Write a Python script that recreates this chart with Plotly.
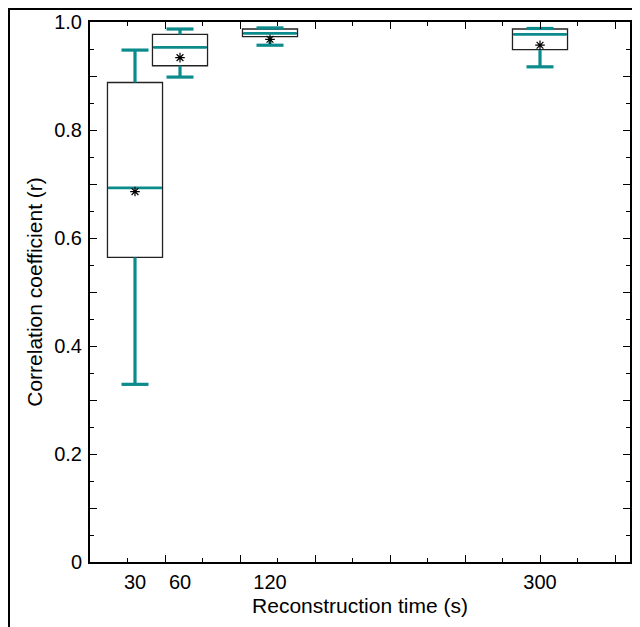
import plotly.graph_objects as go

# ---- data ----
times = [30, 60, 120, 300]
tick_labels = ["30", "60", "120", "300"]
lower_whisker = [0.329, 0.898, 0.957, 0.917]
q1 = [0.564, 0.919, 0.973, 0.949]
median = [0.693, 0.953, 0.979, 0.977]
q3 = [0.888, 0.977, 0.987, 0.987]
upper_whisker = [0.948, 0.987, 0.989, 0.988]
mean = [0.686, 0.934, 0.968, 0.957]
y_tick_vals = [0, 0.1, 0.2, 0.3, 0.4, 0.5, 0.6, 0.7, 0.8, 0.9, 1.0]
y_tick_text = ["0", "", "0.2", "", "0.4", "", "0.6", "", "0.8", "", "1.0"]

TEAL = "#0b8b8c"
BOX_W = 36.7          # box width in x-units (seconds)
CAP_W = 18.0          # whisker cap width in x-units
FONT = "Arial, 'Liberation Sans', sans-serif"

fig = go.Figure()

# black box outlines (box trace with quartiles only)
fig.add_trace(go.Box(
    x=times, q1=q1, median=median, q3=q3,
    lowerfence=q1, upperfence=q3,
    width=BOX_W, whiskerwidth=0,
    line=dict(color="#222222", width=1.3),
    fillcolor="white", boxpoints=False, showlegend=False, hoverinfo="skip",
))

# teal whiskers, caps and medians
wx, wy = [], []
for t, lo, a, b, hi in zip(times, lower_whisker, q1, q3, upper_whisker):
    wx += [t, t, None, t, t, None]
    wy += [hi, b, None, a, lo, None]
    wx += [t - CAP_W / 2, t + CAP_W / 2, None, t - CAP_W / 2, t + CAP_W / 2, None]
    wy += [hi, hi, None, lo, lo, None]
fig.add_trace(go.Scatter(x=wx, y=wy, mode="lines",
                         line=dict(color=TEAL, width=3.2),
                         showlegend=False, hoverinfo="skip"))

mx, my = [], []
for t, m in zip(times, median):
    mx += [t - BOX_W / 2 + 0.6, t + BOX_W / 2 - 0.6, None]
    my += [m, m, None]
fig.add_trace(go.Scatter(x=mx, y=my, mode="lines",
                         line=dict(color=TEAL, width=2.8),
                         showlegend=False, hoverinfo="skip"))

# mean markers
fig.add_trace(go.Scatter(x=times, y=mean, mode="markers",
                         marker=dict(symbol="asterisk-open", size=8, color="black",
                                     line=dict(color="black", width=1.2)),
                         showlegend=False, hoverinfo="skip"))

# empty trace that carries the tick-mark axis
fig.add_trace(go.Scatter(x=[], y=[], xaxis="x2", showlegend=False, hoverinfo="skip"))

fig.update_layout(
    width=640, height=627,
    margin=dict(l=82, r=18, t=14, b=73),
    paper_bgcolor="white", plot_bgcolor="white",
    font=dict(family=FONT, size=20, color="black"),
    xaxis=dict(
        range=[0, 360], tickvals=times, ticktext=tick_labels, ticks="",
        showline=True, linecolor="black", linewidth=2, mirror=True,
        showgrid=False, zeroline=False, automargin=False,
        tickfont=dict(size=20), ticklabelstandoff=1,
        title=dict(text="Reconstruction time (s)", font=dict(size=21), standoff=6),
    ),
    xaxis2=dict(
        range=[0, 360], overlaying="x", anchor="y", side="bottom",
        tickmode="linear", tick0=0, dtick=50, ticks="inside", ticklen=7,
        tickwidth=1.3, tickcolor="black", showticklabels=False,
        minor=dict(dtick=25, tick0=0, ticks="inside", ticklen=4, tickwidth=1.3, tickcolor="black"),
        showline=True, linecolor="black", linewidth=2, mirror="ticks",
        showgrid=False, zeroline=False, automargin=False,
    ),
    yaxis=dict(
        range=[0, 1.0], tickvals=y_tick_vals, ticktext=y_tick_text,
        ticks="inside", ticklen=7, tickwidth=1.3, tickcolor="black",
        minor=dict(dtick=0.05, tick0=0, ticks="inside", ticklen=4, tickwidth=1.3, tickcolor="black"),
        showline=True, linecolor="black", linewidth=2, mirror="ticks",
        showgrid=False, zeroline=False, automargin=False,
        tickfont=dict(size=20), ticklabelstandoff=2,
        title=dict(text="Correlation coefficient (r)", font=dict(size=21), standoff=6),
    ),
    shapes=[
        dict(type="rect", xref="paper", yref="paper",
             x0=-0.1500, x1=1.08, y0=1.0241, y1=-0.2,
             line=dict(color="black", width=2), fillcolor="rgba(0,0,0,0)", layer="below"),
    ],
)

fig.write_html("out.html")
